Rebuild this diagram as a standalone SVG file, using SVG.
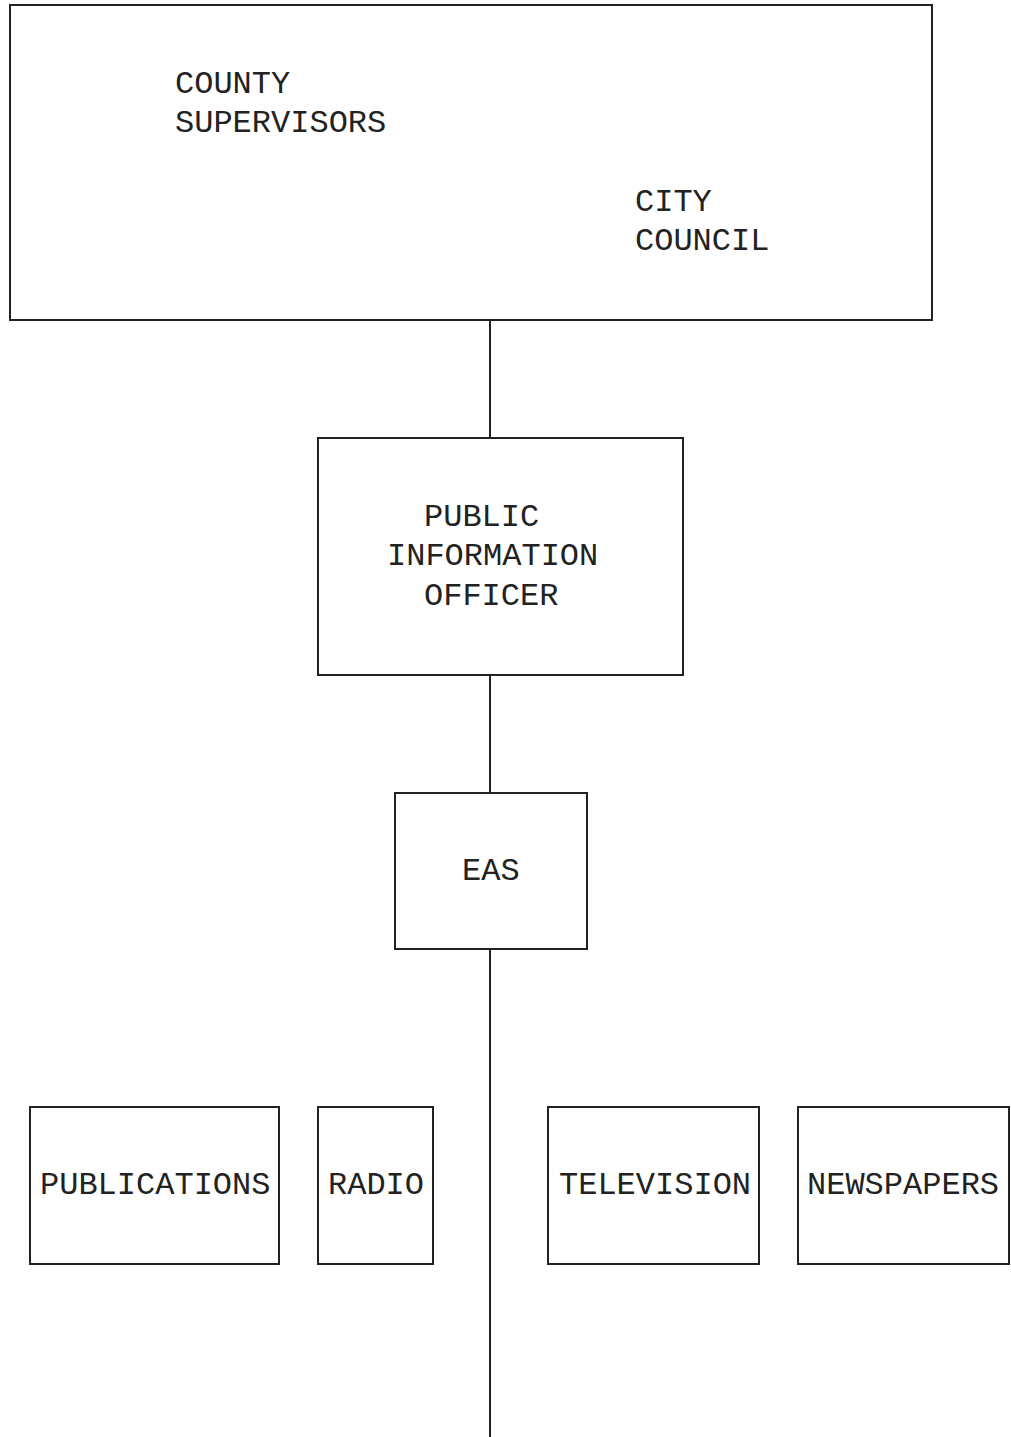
<svg xmlns="http://www.w3.org/2000/svg" width="1011" height="1437" viewBox="0 0 1011 1437">
<style>
.box{fill:none;stroke:#222;stroke-width:2}
.ln{stroke:#222;stroke-width:2;fill:none}
text{font-family:"Liberation Mono","Courier New",monospace;font-size:32px;fill:#222}
</style>
<rect width="1011" height="1437" fill="#fff"/>
<g id="connectors">
<line class="ln" x1="490" y1="320" x2="490" y2="438"/>
<line class="ln" x1="490" y1="675" x2="490" y2="793"/>
<line class="ln" x1="490" y1="949" x2="490" y2="1437"/>
</g>
<g id="council">
<rect class="box" x="10" y="5" width="922" height="315"/>
<text x="175" y="93">COUNTY</text>
<text x="175" y="132">SUPERVISORS</text>
<text x="635" y="211">CITY</text>
<text x="635" y="250">COUNCIL</text>
</g>
<g id="pio">
<rect class="box" x="318" y="438" width="365" height="237"/>
<text x="424" y="526">PUBLIC</text>
<text x="387" y="565">INFORMATION</text>
<text x="424" y="605">OFFICER</text>
</g>
<g id="eas">
<rect class="box" x="395" y="793" width="192" height="156"/>
<text x="462" y="880">EAS</text>
</g>
<g id="publications">
<rect class="box" x="30" y="1107" width="249" height="157"/>
<text x="40" y="1194">PUBLICATIONS</text>
</g>
<g id="radio">
<rect class="box" x="318" y="1107" width="115" height="157"/>
<text x="328" y="1194">RADIO</text>
</g>
<g id="television">
<rect class="box" x="548" y="1107" width="211" height="157"/>
<text x="559" y="1194">TELEVISION</text>
</g>
<g id="newspapers">
<rect class="box" x="798" y="1107" width="211" height="157"/>
<text x="807" y="1194">NEWSPAPERS</text>
</g>
</svg>
